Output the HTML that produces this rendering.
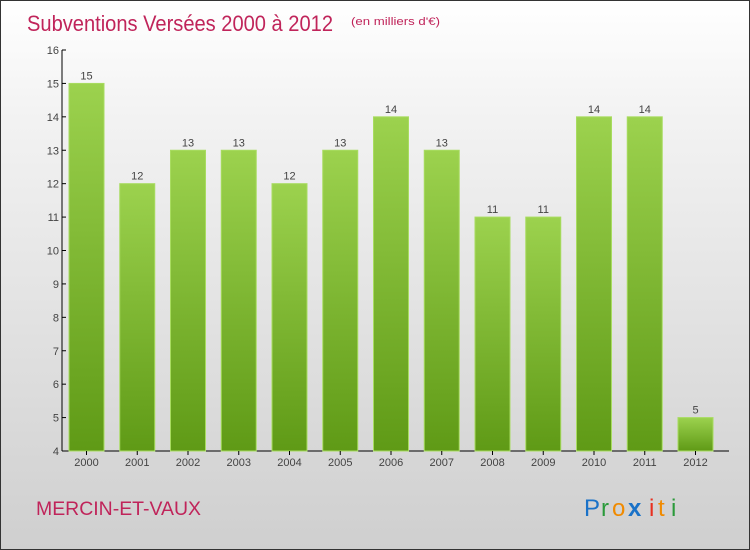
<!DOCTYPE html>
<html><head><meta charset="utf-8"><style>
body{margin:0}
#c{width:748px;height:548px;border:1px solid #333;background:linear-gradient(#fff 0%,#f3f3f3 20%,#cfcfcf 100%);position:relative;font-family:"Liberation Sans",sans-serif;overflow:hidden}
</style></head><body>
<div id="c">
<svg id="s" width="748" height="548">
<text x="26" y="30" font-size="22" fill="#c0245a" textLength="306" lengthAdjust="spacingAndGlyphs">Subventions Versées 2000 à 2012</text>
<text x="350" y="24" font-size="11" fill="#c0245a" textLength="89" lengthAdjust="spacingAndGlyphs">(en milliers d'€)</text>
<text x="35" y="514" font-size="19" fill="#c0245a" textLength="165" lengthAdjust="spacingAndGlyphs">MERCIN-ET-VAUX</text>
<g font-size="24">
<text x="583" y="515" fill="#1a72c8">P</text><text x="600" y="515" fill="#2a9a3a">r</text><text x="611" y="515" fill="#f08a00">o</text><text x="627" y="515" fill="#1a72c8" font-weight="bold">x</text><text x="648" y="515" fill="#e83020">i</text><text x="657" y="515" fill="#f08a00">t</text><text x="670" y="515" fill="#2a9a3a">i</text>
</g>
<defs><linearGradient id="g" x1="0" y1="0" x2="0" y2="1"><stop offset="0" stop-color="#9cd24e"/><stop offset="1" stop-color="#5f9a16"/></linearGradient></defs>
<g id="plot"></g>
</svg>
</div>
<script>
const years=["2000","2001","2002","2003","2004","2005","2006","2007","2008","2009","2010","2011","2012"];
const values=[15,12,13,13,12,13,14,13,11,11,14,14,5];
const yTicks=[4,5,6,7,8,9,10,11,12,13,14,15,16];
const NS="http://www.w3.org/2000/svg";
const p=document.getElementById('plot');
const y0=450,yTop=49,vmin=4,vmax=16;
const ys=v=>y0-(v-vmin)*(y0-yTop)/(vmax-vmin);
const x0=61,step=50.75,bw=35;
const xs=i=>x0+24.5+i*step;
function mk(t,a){const e=document.createElementNS(NS,t);for(const k in a)e.setAttribute(k,a[k]);p.appendChild(e);return e;}
let ax=mk('line',{x1:x0,y1:yTop,x2:x0,y2:y0,stroke:'#000','stroke-width':1});


let bx=mk('line',{x1:x0,y1:y0,x2:728,y2:y0,stroke:'#000','stroke-width':1});


yTicks.forEach(v=>{
 const y=ys(v);
 mk('line',{x1:x0,y1:y,x2:x0+4,y2:y,stroke:'#000'});
 const t=mk('text',{x:x0-3,y:y+4,'font-size':11,fill:'#444','text-anchor':'end'});t.textContent=v;
 
 
});
values.forEach((v,i)=>{
 const cx=xs(i);
 const r=mk('rect',{x:cx-bw/2,y:ys(v),width:bw,height:y0-ys(v),fill:'url(#g)',stroke:'#a8dc60','stroke-width':1});
 
 
 const l=mk('text',{x:cx,y:ys(v)-4,'font-size':11,fill:'#444','text-anchor':'middle'});l.textContent=v;
 
 
 mk('line',{x1:cx,y1:y0,x2:cx,y2:y0+4,stroke:'#000'});
 const xl=mk('text',{x:cx,y:y0+15,'font-size':11,fill:'#444','text-anchor':'middle'});xl.textContent=years[i];
 
 
});
</script>
</body></html>
